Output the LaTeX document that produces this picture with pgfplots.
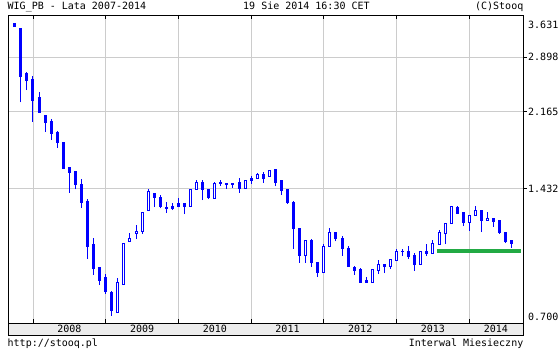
\documentclass[border=0pt]{standalone}
\usepackage{pgfplots}
\pgfplotsset{compat=1.18}
\usepackage{fontspec}
\setmainfont{DejaVu Sans Mono}
\definecolor{cblue}{RGB}{0,0,255}
\definecolor{gridc}{RGB}{204,204,204}
\definecolor{bandc}{RGB}{236,236,236}
\definecolor{supp}{RGB}{34,170,68}
\pgfplotsset{
  wick/.style={draw=cblue, line width=1pt, mark=none, forget plot},
  body/.style={draw=cblue, line width=1pt, mark=none, forget plot, line join=miter},
}
% m, Open, High, Low, Close  (m: months from Jan 2008)
\newcommand{\cdown}[5]{%
  \addplot[wick] coordinates {(#1,#4) (#1,#3)};
  \pgfmathsetmacro{\xa}{#1-0.165}\pgfmathsetmacro{\xb}{#1+0.165}%
  \addplot[body, fill=cblue] coordinates {(\xa,#2) (\xb,#2) (\xb,#5) (\xa,#5)} -- cycle;
}
\newcommand{\cupc}[5]{%
  \addplot[wick] coordinates {(#1,#4) (#1,#3)};
  \pgfmathsetmacro{\xa}{#1-0.165}\pgfmathsetmacro{\xb}{#1+0.165}%
  \addplot[body, fill=white] coordinates {(\xa,#2) (\xb,#2) (\xb,#5) (\xa,#5)} -- cycle;
}
\begin{document}
\begin{tikzpicture}
\useasboundingbox (0,0) rectangle (560pt,350pt);
\fill[white] (0,0) rectangle (560pt,350pt);
\fill[bandc] (8pt,15pt) rectangle (523pt,27pt);
\begin{axis}[
  at={(8pt,27pt)}, anchor=south west,
  width=515pt, height=308pt, scale only axis,
  xmin=-4.125, xmax=80.86, ymode=log, ymin=0.695, ymax=3.635,
  clip=false,
  axis line style={black, line width=0.8pt},
  xtick={0,12,24,36,48,60,72}, xticklabels={},
  ytick={1.432,2.165,2.898}, yticklabels={},
  major tick length=0pt,
  xmajorgrids, ymajorgrids,
  grid style={gridc, line width=0.8pt},
  extra x ticks={6,18,30,42,54,66,76.4},
  extra x tick labels={2008,2009,2010,2011,2012,2013,2014},
  extra x tick style={grid=none, major tick length=0pt},
  xticklabel style={inner sep=0pt, yshift=-1.5pt},
]
\cdown{-3}{3.481}{3.481}{3.410}{3.410}
\cdown{-2}{3.387}{3.387}{2.274}{2.617}
\cdown{-1}{2.661}{2.675}{2.429}{2.553}
\cdown{0}{2.576}{2.617}{2.049}{2.293}
\cdown{1}{2.338}{2.403}{2.158}{2.158}
\cdown{2}{2.123}{2.123}{1.942}{2.038}
\cdown{3}{2.056}{2.078}{1.860}{1.921}
\cdown{4}{1.938}{1.949}{1.781}{1.830}
\cdown{5}{1.837}{1.837}{1.589}{1.595}
\cdown{6}{1.605}{1.605}{1.399}{1.558}
\cdown{7}{1.564}{1.572}{1.425}{1.461}
\cdown{8}{1.466}{1.506}{1.291}{1.324}
\cdown{9}{1.338}{1.355}{0.981}{1.047}
\cdown{10}{1.062}{1.098}{0.901}{0.929}
\cdown{11}{0.934}{0.934}{0.852}{0.872}
\cdown{12}{0.885}{0.904}{0.813}{0.822}
\cdown{13}{0.818}{0.827}{0.722}{0.742}
\cupc{14}{0.735}{0.885}{0.735}{0.866}
\cupc{15}{0.856}{1.068}{0.852}{1.068}
\cupc{16}{1.078}{1.127}{1.078}{1.097}
\cupc{17}{1.125}{1.176}{1.091}{1.139}
\cupc{18}{1.135}{1.261}{1.121}{1.261}
\cupc{19}{1.270}{1.427}{1.270}{1.405}
\cdown{20}{1.397}{1.397}{1.295}{1.362}
\cdown{21}{1.367}{1.382}{1.286}{1.302}
\cdown{22}{1.295}{1.331}{1.257}{1.288}
\cdown{23}{1.302}{1.324}{1.275}{1.288}
\cdown{24}{1.317}{1.360}{1.295}{1.302}
\cdown{25}{1.317}{1.324}{1.248}{1.302}
\cupc{26}{1.297}{1.420}{1.297}{1.420}
\cupc{27}{1.420}{1.498}{1.420}{1.482}
\cdown{28}{1.482}{1.498}{1.345}{1.420}
\cdown{29}{1.420}{1.420}{1.352}{1.362}
\cupc{30}{1.355}{1.482}{1.355}{1.474}
\cdown{31}{1.480}{1.498}{1.453}{1.469}
\cdown{32}{1.474}{1.474}{1.429}{1.461}
\cdown{33}{1.474}{1.474}{1.437}{1.466}
\cdown{34}{1.482}{1.514}{1.399}{1.429}
\cupc{35}{1.429}{1.498}{1.429}{1.498}
\cdown{36}{1.514}{1.530}{1.469}{1.498}
\cupc{37}{1.511}{1.555}{1.511}{1.541}
\cdown{38}{1.539}{1.564}{1.477}{1.514}
\cupc{39}{1.525}{1.578}{1.525}{1.578}
\cdown{40}{1.581}{1.581}{1.450}{1.477}
\cdown{41}{1.498}{1.498}{1.383}{1.414}
\cdown{42}{1.420}{1.420}{1.319}{1.326}
\cdown{43}{1.331}{1.338}{1.036}{1.153}
\cdown{44}{1.157}{1.157}{0.961}{0.997}
\cupc{45}{0.997}{1.080}{0.961}{1.080}
\cdown{46}{1.080}{1.091}{0.940}{0.961}
\cdown{47}{0.964}{0.964}{0.891}{0.911}
\cupc{48}{0.911}{1.062}{0.911}{1.049}
\cupc{49}{1.049}{1.157}{1.049}{1.127}
\cdown{50}{1.127}{1.127}{1.078}{1.093}
\cdown{51}{1.097}{1.109}{0.997}{1.036}
\cdown{52}{1.039}{1.051}{0.940}{0.940}
\cdown{53}{0.934}{0.943}{0.901}{0.919}
\cdown{54}{0.924}{0.934}{0.863}{0.866}
\cdown{55}{0.871}{0.889}{0.863}{0.866}
\cupc{56}{0.866}{0.929}{0.866}{0.924}
\cupc{57}{0.919}{0.975}{0.904}{0.954}
\cdown{58}{0.954}{0.954}{0.909}{0.939}
\cupc{59}{0.939}{0.980}{0.929}{0.975}
\cupc{60}{0.970}{1.034}{0.970}{1.023}
\cdown{61}{1.023}{1.034}{0.995}{1.018}
\cdown{62}{1.023}{1.051}{0.980}{0.995}
\cdown{63}{1.000}{1.012}{0.919}{0.949}
\cupc{64}{0.949}{1.023}{0.949}{1.023}
\cdown{65}{1.023}{1.062}{0.995}{1.007}
\cupc{66}{1.011}{1.085}{1.011}{1.068}
\cupc{67}{1.062}{1.145}{1.062}{1.127}
\cupc{68}{1.123}{1.189}{1.062}{1.189}
\cupc{69}{1.185}{1.304}{1.185}{1.297}
\cdown{70}{1.291}{1.304}{1.250}{1.250}
\cdown{71}{1.257}{1.264}{1.170}{1.191}
\cupc{72}{1.191}{1.241}{1.141}{1.241}
\cupc{73}{1.237}{1.304}{1.237}{1.275}
\cdown{74}{1.275}{1.275}{1.133}{1.202}
\cupc{75}{1.202}{1.264}{1.202}{1.219}
\cdown{76}{1.219}{1.219}{1.164}{1.196}
\cdown{77}{1.202}{1.208}{1.123}{1.129}
\cdown{78}{1.133}{1.133}{1.068}{1.074}
\cdown{79}{1.080}{1.085}{1.041}{1.064}
% support line
\addplot[supp, line width=4pt, mark=none, forget plot] coordinates {(66.7,1.0214) (80.5,1.0214)};
% ticks
\pgfplotsinvokeforeach{0,12,24,36,48,60,72}{
  \draw[black, line width=0.8pt] (axis cs:#1,3.635) -- ([yshift=-4.5pt]axis cs:#1,3.635);
  \draw[black, line width=0.8pt] (axis cs:#1,0.695) -- ([yshift=4pt]axis cs:#1,0.695);
}
\pgfplotsinvokeforeach{1.432,2.165,2.898}{
  \draw[black, line width=0.8pt] (axis cs:80.86,#1) -- ([xshift=4pt]axis cs:80.86,#1);
  \node[anchor=west, inner sep=0pt] at ([xshift=5pt]axis cs:80.86,#1) {#1};
}
\end{axis}
\draw[black, line width=0.8pt] (8pt,27pt) -- (8pt,15pt) -- (523pt,15pt) -- (523pt,27pt);
\node[anchor=west, inner sep=0pt] at (528pt,325pt) {3.631};
\node[anchor=west, inner sep=0pt] at (528pt,33pt) {0.700};
\node[anchor=base west, inner sep=0pt] at (7.5pt,340pt) {WIG\_PB - Lata 2007-2014};
\node[anchor=base west, inner sep=0pt] at (243pt,340pt) {19 Sie 2014 16:30 CET};
\node[anchor=base east, inner sep=0pt] at (523.5pt,340pt) {(C)Stooq};
\node[anchor=base west, inner sep=0pt] at (7.5pt,3.5pt) {http://stooq.pl};
\node[anchor=base east, inner sep=0pt] at (523.5pt,3.5pt) {Interwal Miesieczny};
\end{tikzpicture}
\end{document}
